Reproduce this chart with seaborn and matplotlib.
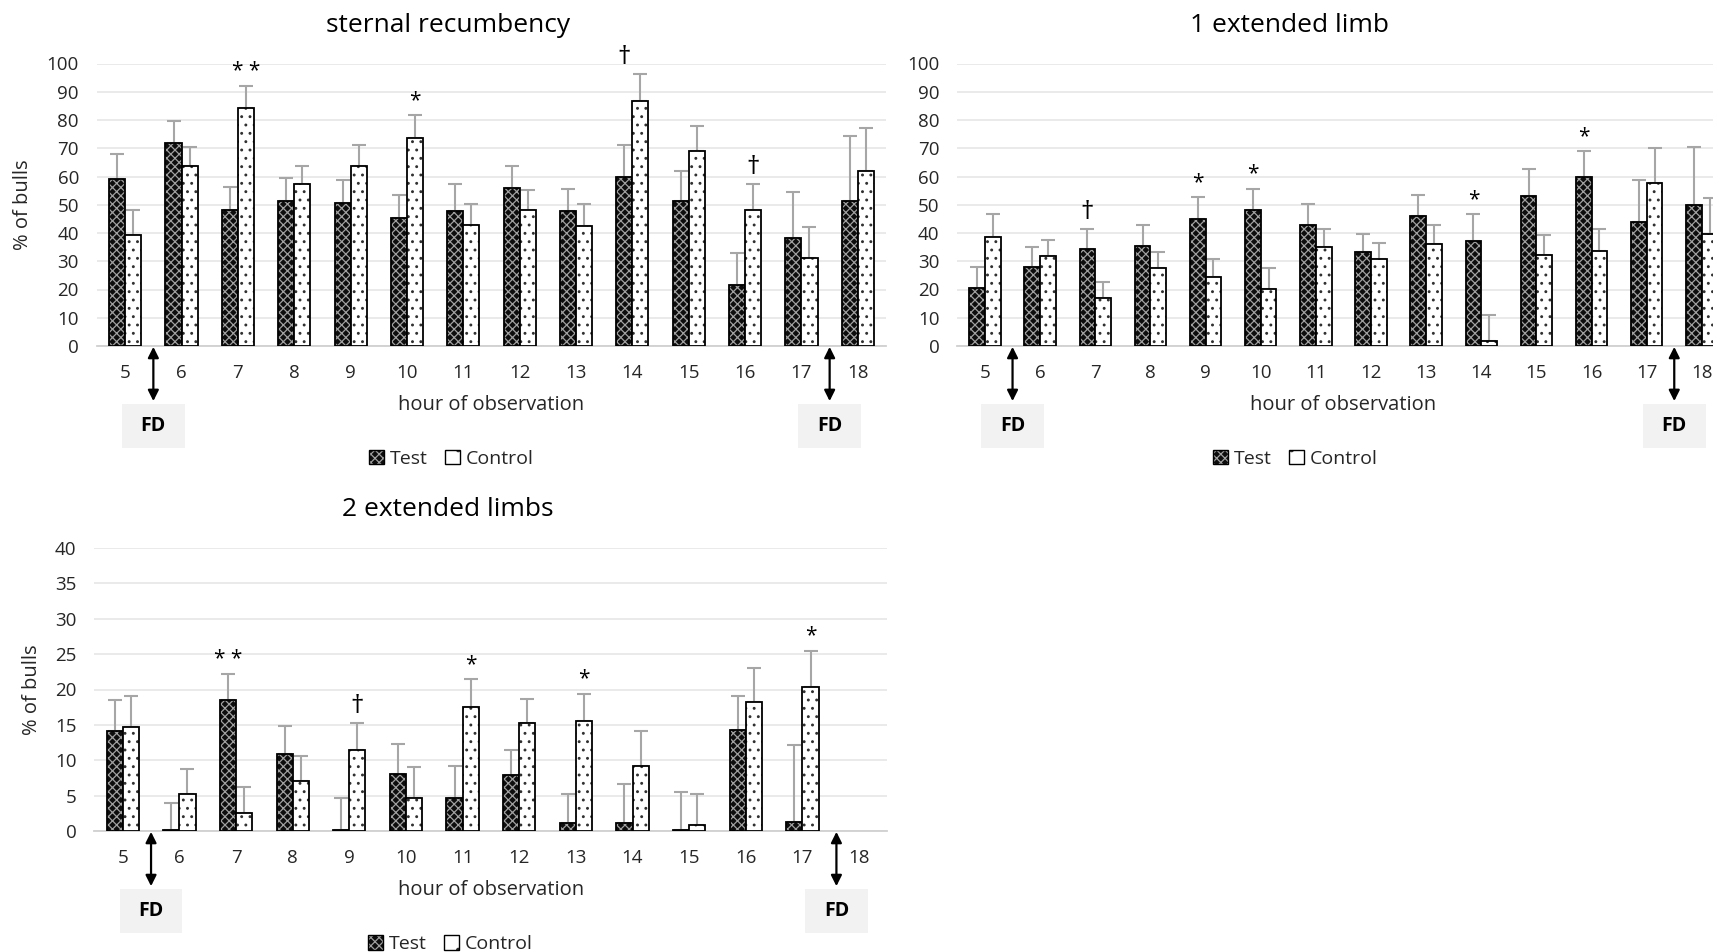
import numpy as np
import pandas as pd
import matplotlib
matplotlib.use("Agg")
import matplotlib.pyplot as plt
import matplotlib.colors as mcolors
import matplotlib.transforms as mtransforms
from matplotlib.patches import Patch, Rectangle
import seaborn as sns

# ---------------- data ----------------
hours = [str(h) for h in range(5, 19)]
groups = ["Test", "Control"]

# sternal recumbency
sr_test = [59.0, 71.7, 48.3, 51.4, 50.5, 45.2, 47.9, 55.8, 47.8, 60.0, 51.4, 21.7, 38.1, 51.4]
sr_ctrl = [39.3, 63.7, 84.4, 57.3, 63.7, 73.8, 43.0, 48.2, 42.5, 86.6, 69.1, 48.2, 31.3, 62.0]
sr_test_se = [8.9, 8.0, 8.1, 8.2, 8.3, 8.3, 9.4, 7.9, 7.9, 11.1, 10.7, 11.3, 16.5, 23.0]
sr_ctrl_se = [8.9, 6.9, 7.5, 6.4, 7.4, 8.0, 7.4, 7.0, 7.9, 9.6, 8.8, 9.1, 11.0, 15.0]
sr_marks = [("7", "Control", "* *"), ("10", "Control", "*"), ("14", "Test", "†"), ("16", "Control", "†")]

# 1 extended limb
l1_test = [20.6, 28.1, 34.4, 35.5, 45.0, 48.2, 43.0, 33.4, 46.1, 37.0, 53.1, 60.0, 44.0, 49.9]
l1_ctrl = [38.7, 31.8, 16.9, 27.5, 24.3, 20.2, 35.0, 30.7, 36.1, 1.9, 32.2, 33.8, 57.8, 39.7]
l1_test_se = [7.5, 6.8, 6.9, 7.4, 7.6, 7.5, 7.4, 6.3, 7.4, 9.7, 9.5, 9.0, 14.8, 20.6]
l1_ctrl_se = [8.0, 5.7, 5.9, 5.9, 6.4, 7.3, 6.3, 5.9, 6.8, 9.1, 7.0, 7.5, 12.2, 12.8]
l1_marks = [("7", "Test", "†"), ("9", "Test", "*"), ("10", "Test", "*"), ("14", "Test", "*"), ("16", "Test", "*")]

# 2 extended limbs (no observation at hour 18)
l2_test = [14.1, 0.2, 18.5, 10.9, 0.2, 8.1, 4.7, 7.9, 1.1, 1.1, 0.2, 14.3, 1.3, np.nan]
l2_ctrl = [14.7, 5.3, 2.6, 7.0, 11.5, 4.7, 17.5, 15.3, 15.6, 9.2, 0.9, 18.3, 20.4, np.nan]
l2_test_se = [4.4, 3.8, 3.7, 4.0, 4.4, 4.2, 4.5, 3.6, 4.2, 5.5, 5.3, 4.8, 10.8, np.nan]
l2_ctrl_se = [4.4, 3.4, 3.6, 3.6, 3.8, 4.3, 4.0, 3.4, 3.8, 4.9, 4.4, 4.7, 5.1, np.nan]
l2_marks = [("7", "Test", "* *"), ("9", "Control", "†"), ("11", "Control", "*"), ("13", "Control", "*"), ("17", "Control", "*")]

titles = ["sternal recumbency", "1 extended limb", "2 extended limbs"]
xlabel = "hour of observation"
ylabel = "% of bulls"
fd_label = "FD"

# ---------------- style ----------------
sns.set_theme(style="white")
plt.rcParams["font.family"] = ["Open Sans", "DejaVu Sans"]
plt.rcParams["hatch.linewidth"] = 0.9

TXT = "#262626"
TEST_FACE = "#0d0d0d"
TEST_HATCH = "xxxx"
TEST_HATCH_COL = "#a0a0a0"
CTRL_FACE = "white"
CTRL_HATCH = ".."
CTRL_HATCH_COL = "#303030"
ERR_COL = "#a6a6a6"


def set_hatch_color(p, col):
    c = mcolors.to_rgba(col)
    if hasattr(p, "set_hatchcolor"):
        p.set_hatchcolor(c)
    else:
        p._hatch_color = c


W, H = 1713, 952
fig = plt.figure(figsize=(W / 100, H / 100), dpi=100)
ax1 = fig.add_axes([97 / W, 1 - 346 / H, 789 / W, 282.5 / H])
ax2 = fig.add_axes([957.4 / W, 1 - 346 / H, 772 / W, 282.5 / H])
ax3 = fig.add_axes([94.4 / W, 1 - 831 / H, 793 / W, 283 / H])


def panel(ax, test, ctrl, test_se, ctrl_se, marks, ymax, ystep, title, title_x,
          legend_x, fd_pos, fd_w, show_ylabel, ylabel_x):
    df = pd.DataFrame({
        "hour": hours * 2,
        "group": ["Test"] * len(hours) + ["Control"] * len(hours),
        "value": list(test) + list(ctrl),
    }).dropna()
    sns.barplot(data=df, x="hour", y="value", hue="group", order=hours,
                hue_order=groups, palette=[TEST_FACE, CTRL_FACE], width=0.57,
                gap=0, errorbar=None, edgecolor="black", linewidth=1.3,
                legend=False, ax=ax, zorder=3)

    centers = {}
    group_top = {}
    for cont, grp, se, hatch, hcol in zip(ax.containers, groups, [test_se, ctrl_se],
                                          [TEST_HATCH, CTRL_HATCH],
                                          [TEST_HATCH_COL, CTRL_HATCH_COL]):
        xs, hs, es = [], [], []
        for p in cont:
            p.set_hatch(hatch)
            p.set_edgecolor("black")
            set_hatch_color(p, hcol)
            xc = p.get_x() + p.get_width() / 2
            idx = int(round(xc))
            xs.append(xc)
            hs.append(p.get_height())
            es.append(se[idx])
            centers[(hours[idx], grp)] = xc
            top = p.get_height() + se[idx]
            group_top[hours[idx]] = max(group_top.get(hours[idx], 0), top)
        ax.errorbar(xs, hs, yerr=[np.zeros(len(es)), es], fmt="none",
                    ecolor=ERR_COL, elinewidth=1.5, capsize=5, capthick=1.5,
                    zorder=2)

    for hr, grp, txt in marks:
        fs = 19 if txt == "†" else 15
        ax.annotate(txt, (centers[(hr, grp)], group_top[hr]), xytext=(0, 3),
                    textcoords="offset points", ha="center", va="bottom",
                    fontsize=fs, color="black")

    ax.set_ylim(0, ymax)
    ax.set_xlim(-0.5, len(hours) - 0.5)
    ax.set_yticks(np.arange(0, ymax + 0.1, ystep))
    ax.yaxis.grid(True, color="#e4e4e4", lw=1.1)
    ax.set_axisbelow(True)
    for s in ["top", "right", "left"]:
        ax.spines[s].set_visible(False)
    ax.spines["bottom"].set_color("#d0d0d0")
    ax.spines["bottom"].set_linewidth(1.3)
    ax.spines["bottom"].set_zorder(1)
    ax.tick_params(axis="both", length=0, labelsize=13.5, colors=TXT)
    ax.tick_params(axis="x", pad=13)
    ax.tick_params(axis="y", pad=13)
    ax.set_xlabel("")
    ax.set_ylabel("")
    ax.text(0.5, -0.21, xlabel, transform=ax.transAxes, ha="center",
            va="center", fontsize=14.5, color=TXT)
    if show_ylabel:
        ax.text(ylabel_x, 0.5, ylabel, transform=ax.transAxes, ha="center",
                va="center", rotation=90, fontsize=14.5, color=TXT)
    ax.text(title_x, 1.135, title, transform=ax.transAxes, ha="center",
            va="center", fontsize=19, color="black")

    handles = [Patch(facecolor=TEST_FACE, edgecolor="black", hatch=TEST_HATCH, label="Test"),
               Patch(facecolor=CTRL_FACE, edgecolor="black", hatch=".", label="Control")]
    set_hatch_color(handles[0], TEST_HATCH_COL)
    set_hatch_color(handles[1], CTRL_HATCH_COL)
    ax.legend(handles=handles, loc="center", bbox_to_anchor=(legend_x, -0.40),
              ncol=2, frameon=False, fontsize=14, handlelength=0.75,
              handleheight=0.75, handletextpad=0.3, columnspacing=0.9,
              labelcolor=TXT)

    tr = mtransforms.blended_transform_factory(ax.transData, ax.transAxes)
    for xp in fd_pos:
        ax.annotate("", xy=(xp, -0.003), xytext=(xp, -0.195), xycoords=tr,
                    textcoords=tr, annotation_clip=False,
                    arrowprops=dict(arrowstyle="<|-|>", color="black", lw=1.6,
                                    mutation_scale=16, shrinkA=0, shrinkB=0))
        ax.add_patch(Rectangle((xp - fd_w / 2, -0.362), fd_w, 0.158,
                               transform=tr, facecolor="#f2f2f2",
                               edgecolor="none", clip_on=False))
        ax.text(xp, -0.283, fd_label, transform=tr, ha="center", va="center",
                fontsize=14, fontweight="bold", color="black")


panel(ax1, sr_test, sr_ctrl, sr_test_se, sr_ctrl_se, sr_marks, 100, 10,
      titles[0], 0.445, 0.449, [0.5, 12.5], 1.12, True, -0.094)
panel(ax2, l1_test, l1_ctrl, l1_test_se, l1_ctrl_se, l1_marks, 100, 10,
      titles[1], 0.430, 0.438, [0.5, 12.5], 1.14, False, 0)
panel(ax3, l2_test, l2_ctrl, l2_test_se, l2_ctrl_se, l2_marks, 40, 5,
      titles[2], 0.446, 0.449, [0.5, 12.6], 1.10, True, -0.079)

fig.savefig("out.png", dpi=100, facecolor="white")
